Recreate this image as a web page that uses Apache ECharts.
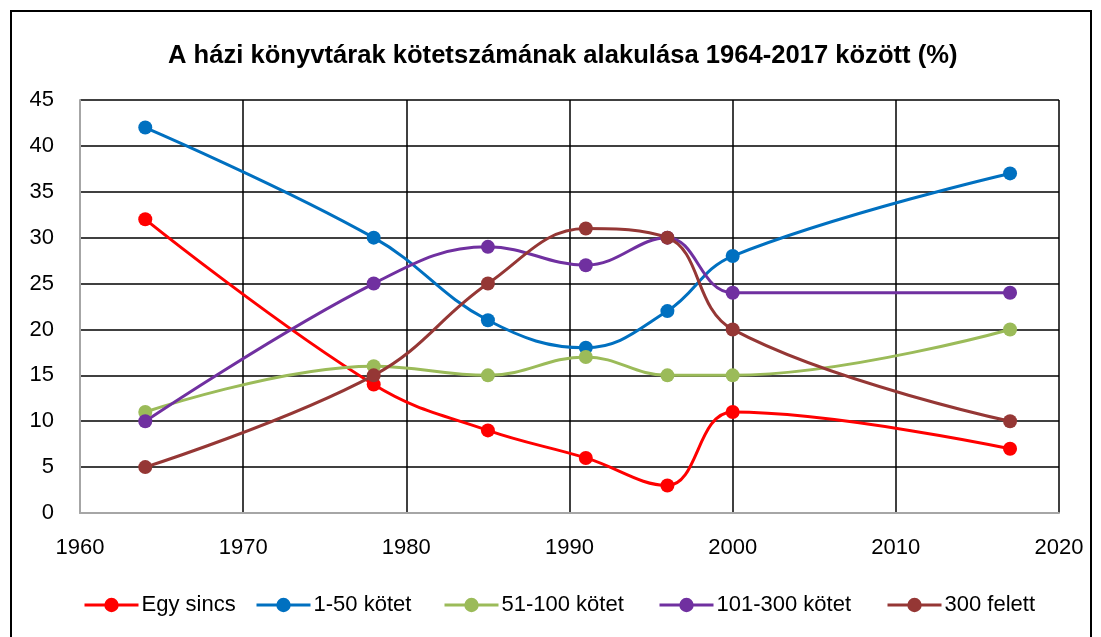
<!DOCTYPE html>
<html><head><meta charset="utf-8">
<script src="https://cdn.jsdelivr.net/npm/echarts@6/dist/echarts.min.js"></script>
<style>html,body{margin:0;padding:0;background:#fff}#c{width:1101px;height:637px}</style>
</head><body><div id="c"></div>
<script>
const years = [1964, 1978, 1985, 1991, 1996, 2000, 2017];
const egySincs = [32, 14, 9, 6, 3, 11, 7];
const kotet1_50 = [42, 30, 21, 18, 22, 28, 37];
const kotet51_100 = [11, 16, 15, 17, 15, 15, 20];
const kotet101_300 = [10, 25, 29, 27, 30, 24, 24];
const felett300 = [5, 15, 25, 31, 30, 20, 10];
const seriesNames = ['Egy sincs', '1-50 kötet', '51-100 kötet', '101-300 kötet', '300 felett'];
const seriesData = [egySincs, kotet1_50, kotet51_100, kotet101_300, felett300];
const colors = ['#FF0000', '#0070C0', '#9BBB59', '#7030A0', '#953735'];
const font = 'Liberation Sans, Arial, sans-serif';
const legendLefts = [83, 255, 443, 658, 886];

const chart = echarts.init(document.getElementById('c'));
chart.setOption({
  animation: false,
  color: colors,
  title: {
    text: 'A házi könyvtárak kötetszámának alakulása 1964-2017 között (%)',
    left: 163, top: 38,
    textStyle: { fontFamily: font, fontWeight: 'bold', fontSize: 25.6, color: '#000' }
  },
  legend: seriesNames.map((n, i) => ({
    data: [n], top: 594, left: legendLefts[i],
    itemWidth: 54, itemHeight: 18, itemGap: 0,
    textStyle: { fontFamily: font, fontSize: 22, color: '#000', padding: [0, 0, 0, -2] },
    lineStyle: { width: 3 },
    padding: 0
  })),
  grid: { left: 80, right: 42, top: 100, bottom: 124 },
  xAxis: {
    type: 'value', min: 1960, max: 2020, interval: 10,
    axisLine: { show: true, lineStyle: { color: '#A6A6A6', width: 2 } },
    axisTick: { show: false },
    splitLine: { show: true, lineStyle: { color: '#000', width: 1.5 } },
    axisLabel: { fontFamily: font, fontSize: 22, color: '#000', margin: 24, formatter: v => String(v) }
  },
  yAxis: {
    type: 'value', min: 0, max: 45, interval: 5,
    axisLine: { show: true, lineStyle: { color: '#A6A6A6', width: 2 } },
    axisTick: { show: false },
    splitLine: { show: true, lineStyle: { color: '#000', width: 1.5 } },
    axisLabel: { fontFamily: font, fontSize: 22, color: '#000', margin: 26 }
  },
  graphic: [{
    type: 'rect', shape: { x: 11, y: 11, width: 1080, height: 640 },
    style: { fill: 'none', stroke: '#000', lineWidth: 2 }, silent: true
  }],
  series: seriesData.map((d, i) => ({
    name: seriesNames[i], type: 'line', smooth: 0.4,
    data: years.map((y, j) => [y, d[j]]),
    symbol: 'circle', symbolSize: 14,
    lineStyle: { width: 3, color: colors[i] },
    itemStyle: { color: colors[i] }
  }))
});
</script></body></html>
